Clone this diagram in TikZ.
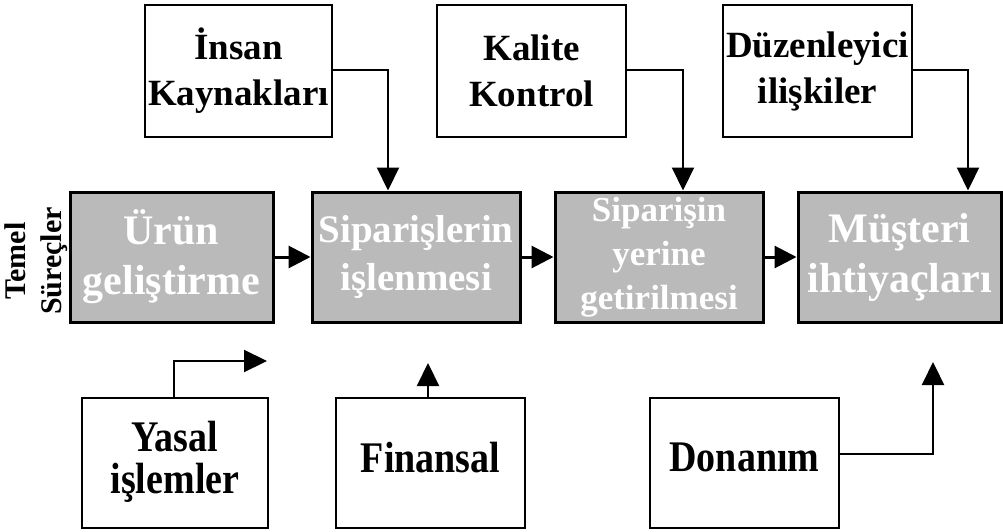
\documentclass[tikz,border=0pt]{standalone}
\usepackage{fontspec}
\usepackage{graphicx}
\setmainfont{Liberation Serif}
\usetikzlibrary{arrows.meta}
\begin{document}
\begin{tikzpicture}[x=1pt,y=-1pt,
  sidebox/.style={draw=black, line width=1.6pt, fill=white, inner sep=0pt,
    align=center, font=\bfseries\fontsize{37}{46}\selectfont},
  corebox/.style={draw=black, line width=3pt, fill=black!27, text=white,
    inner sep=0pt, align=center, minimum height=130,
    font=\bfseries\fontsize{41}{50}\selectfont},
  flow/.style={line width=2.2pt, -{Triangle[length=23pt,width=22pt]}},
  mainflow/.style={line width=3pt, -{Triangle[length=22pt,width=22pt]}}
]
\useasboundingbox (0,0) rectangle (1003,532);

% supporting functions above the core processes
\node[sidebox, minimum width=187, minimum height=132] (hr)  at (238.5,71) {İnsan\\Kaynakları};
\node[sidebox, minimum width=189, minimum height=132] (qc)  at (531.5,71) {Kalite\\Kontrol};
\node[sidebox, minimum width=189, minimum height=132] (reg) at (817.5,71) {Düzenleyici\\ilişkiler};

% core processes
\node[corebox, minimum width=203, font=\bfseries\fontsize{42}{50}\selectfont] (c1) at (171.5,257) {Ürün\\geliştirme};
\node[corebox, minimum width=208, font=\bfseries\fontsize{39}{48}\selectfont] (c2) at (416,257) {Siparişlerin\\işlenmesi};
\node[corebox, minimum width=208, font=\bfseries\fontsize{35}{44}\selectfont] (c3) at (659,257) {Siparişin\\yerine\\getirilmesi};
\node[corebox, minimum width=203, font=\bfseries\fontsize{42}{50}\selectfont] (c4) at (899.5,257) {Müşteri\\ihtiyaçları};

\node[rotate=90, align=center, font=\bfseries\fontsize{30}{36}\selectfont] (lab) at (36,261) {Temel\\Süreçler};

% supporting functions below the core processes
\newcommand\stretchtext[1]{\scalebox{1}[1.15]{\fontsize{38}{32}\selectfont\begin{tabular}{@{}c@{}}#1\end{tabular}}}
\node[sidebox, minimum width=186, minimum height=130] (leg) at (175,463) {\stretchtext{Yasal\\işlemler}};
\node[sidebox, minimum width=189, minimum height=130] (fin) at (430.5,463) {\stretchtext{Finansal}};
\node[sidebox, minimum width=189, minimum height=130] (hw)  at (744.5,463) {\stretchtext{Donanım}};

% flow between core processes
\draw[mainflow] (c1.east) -- (c2.west);
\draw[mainflow] (c2.east) -- (c3.west);
\draw[mainflow] (c3.east) -- (c4.west);

% inputs from above
\draw[flow] ([yshift=1pt]hr.east)  -| ([xshift=-28pt]c2.north);
\draw[flow] ([yshift=1pt]qc.east)  -| ([xshift=24pt]c3.north);
\draw[flow] ([yshift=1pt]reg.east) -| ([xshift=68.5pt]c4.north);

% inputs from below
\coordinate (legend) at (267,361);
\coordinate (finend) at (428,363);
\coordinate (hwend)  at (933,362);
\draw[flow] ([xshift=-1pt]leg.north) |- (legend);
\draw[flow] ([xshift=-2.5pt]fin.north) -- (finend);
\draw[flow] ([yshift=9pt]hw.east) -| (hwend);
\end{tikzpicture}
\end{document}
